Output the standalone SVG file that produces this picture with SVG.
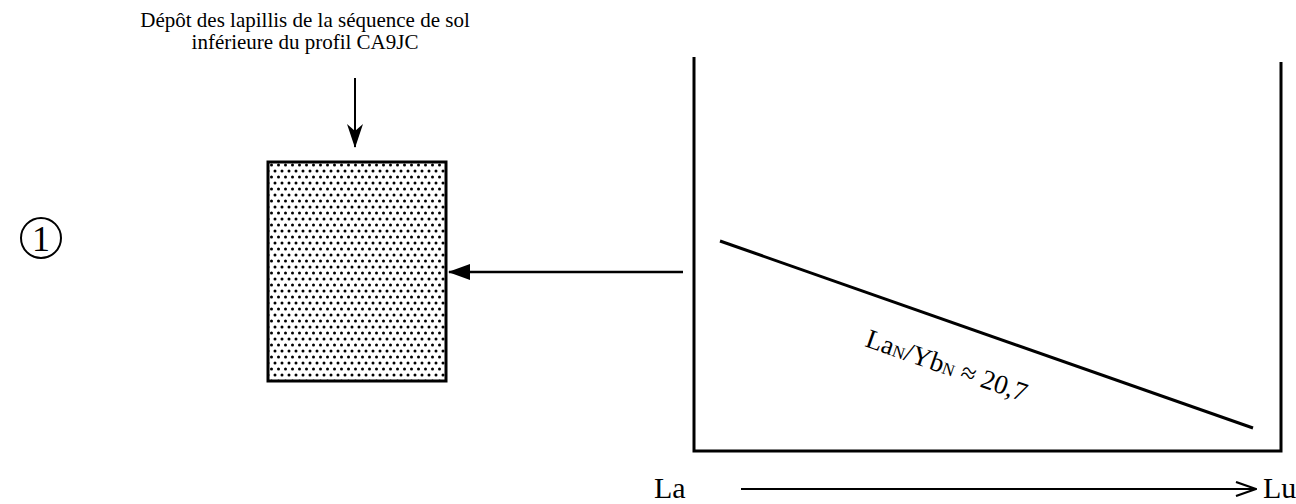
<svg xmlns="http://www.w3.org/2000/svg" width="1296" height="504" viewBox="0 0 1296 504">
<style>
  text { font-family: "Liberation Serif", "Times New Roman", serif; fill: #000; }
  .ln { stroke: #000; stroke-width: 3; fill: none; }
</style>
<defs>
  <pattern id="dots" width="7" height="12" patternUnits="userSpaceOnUse">
    <circle cx="2" cy="3" r="1.5" fill="#000"/>
    <circle cx="5.5" cy="9" r="1.5" fill="#000"/>
  </pattern>
  <marker id="filled" markerWidth="22" markerHeight="16" refX="21" refY="8" orient="auto" markerUnits="userSpaceOnUse" viewBox="0 0 22 16">
    <path d="M0,0 L22,8 L0,16 Z" fill="#000"/>
  </marker>
  <marker id="barb" markerWidth="24" markerHeight="16" refX="23" refY="8" orient="auto" markerUnits="userSpaceOnUse" viewBox="0 0 24 16">
    <path d="M0,0 L24,8 L0,16 L7,8 Z" fill="#000"/>
  </marker>
  <marker id="open" markerWidth="22" markerHeight="16" refX="21" refY="8" orient="auto" markerUnits="userSpaceOnUse" viewBox="0 0 22 16">
    <path d="M1,1 L21,8 L1,15" fill="none" stroke="#000" stroke-width="2.2"/>
  </marker>
</defs>
<rect width="1296" height="504" fill="#fff"/>

<g id="label-1">
  <circle cx="41" cy="238" r="20" fill="none" stroke="#000" stroke-width="2"/>
  <text x="41" y="251" font-size="36" text-anchor="middle">1</text>
</g>

<g id="title">
  <text x="305" y="27" font-size="21" text-anchor="middle">Dépôt des lapillis de la séquence de sol</text>
  <text x="305" y="49" font-size="21" text-anchor="middle">inférieure du profil CA9JC</text>
</g>

<g id="deposit">
  <rect x="268" y="162" width="178" height="219" fill="url(#dots)" stroke="#000" stroke-width="3"/>
</g>

<g id="chart">
  <path class="ln" d="M694,57 L694,451 L1281,451 L1281,62"/>
  <line x1="720" y1="241" x2="1253" y2="428" stroke="#000" stroke-width="3"/>
  <text transform="translate(864,346) rotate(19.3)" font-size="27">La<tspan font-size="17">N</tspan>/Yb<tspan font-size="17">N</tspan> ≈ 20,7</text>
</g>

<g id="axis">
  <text x="654" y="498" font-size="30">La</text>
  <text x="1263" y="498" font-size="30">Lu</text>
</g>

<g id="connectors">
  <line x1="355" y1="78" x2="355" y2="147" stroke="#000" stroke-width="2" marker-end="url(#barb)"/>
  <line x1="683" y1="272" x2="449" y2="272" stroke="#000" stroke-width="2.5" marker-end="url(#filled)"/>
  <line x1="741" y1="489" x2="1256" y2="489" stroke="#000" stroke-width="2" marker-end="url(#open)"/>
</g>
</svg>
